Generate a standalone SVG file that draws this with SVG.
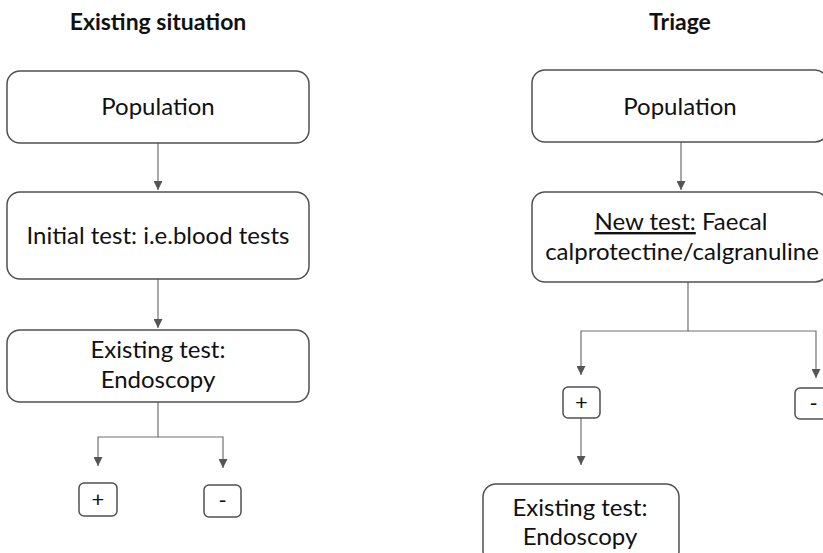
<svg xmlns="http://www.w3.org/2000/svg" width="823" height="553" viewBox="0 0 823 553">
<defs>
<style>
.box{fill:#fff;stroke:#505050;stroke-width:1.5}
.t{font-family:Lato,"Liberation Sans",sans-serif;font-size:24px;fill:#111;text-anchor:middle}
.h{font-family:Lato,"Liberation Sans",sans-serif;font-size:23px;font-weight:bold;fill:#111;text-anchor:middle}
.s{font-family:Lato,"Liberation Sans",sans-serif;font-size:22px;fill:#111;text-anchor:middle}
.c{fill:none;stroke:#707070;stroke-width:1.2}
</style>
<marker id="ah" markerUnits="userSpaceOnUse" markerWidth="9" markerHeight="9" refX="9" refY="4.5" orient="auto" viewBox="0 0 9 9">
<path d="M0,0 L9,4.5 L0,9 z" fill="#555"/>
</marker>
</defs>
<rect width="823" height="553" fill="#fff"/>
<text class="h" x="158" y="30">Existing situation</text>
<text class="h" x="680" y="30">Triage</text>
<g id="connectors">
<path class="c" d="M158,143 V190" marker-end="url(#ah)"/>
<path class="c" d="M158,279 V328" marker-end="url(#ah)"/>
<path class="c" d="M158,402 V437 H98 V466" marker-end="url(#ah)"/>
<path class="c" d="M158,437 H223 V468" marker-end="url(#ah)"/>
<path class="c" d="M681,142 V190" marker-end="url(#ah)"/>
<path class="c" d="M688,282 V331 H581 V375" marker-end="url(#ah)"/>
<path class="c" d="M688,331 H816 V378" marker-end="url(#ah)"/>
<path class="c" d="M581,418 V465" marker-end="url(#ah)"/>
</g>
<g id="l-population">
<rect class="box" x="7" y="71" width="302" height="72" rx="13"/>
<text class="t" x="158" y="115">Population</text>
</g>
<g id="l-initial">
<rect class="box" x="7" y="192" width="302" height="87" rx="13"/>
<text class="t" x="158" y="244">Initial test: i.e.blood tests</text>
</g>
<g id="l-existing">
<rect class="box" x="7" y="330" width="302" height="72" rx="13"/>
<text class="t" x="158" y="358">Existing test:</text>
<text class="t" x="158" y="388">Endoscopy</text>
</g>
<g id="l-plus">
<rect class="box" x="79" y="483" width="38" height="33" rx="5"/>
<text class="s" x="98" y="507">+</text>
</g>
<g id="l-minus">
<rect class="box" x="204" y="485" width="37" height="32" rx="5"/>
<text class="s" x="222.5" y="508">-</text>
</g>
<g id="r-population">
<rect class="box" x="532" y="70" width="296" height="72" rx="13"/>
<text class="t" x="680" y="115">Population</text>
</g>
<g id="r-newtest">
<rect class="box" x="532" y="192" width="296" height="90" rx="13"/>
<text class="t" x="681" y="230"><tspan text-decoration="underline">New test:</tspan> Faecal</text>
<text class="t" x="682" y="260">calprotectine/calgranuline</text>
</g>
<g id="r-plus">
<rect class="box" x="563" y="387" width="37" height="31" rx="5"/>
<text class="s" x="581.5" y="410">+</text>
</g>
<g id="r-minus">
<rect class="box" x="795" y="388" width="37" height="31" rx="5"/>
<text class="s" x="813.5" y="411">-</text>
</g>
<g id="r-existing">
<rect class="box" x="483" y="484" width="196" height="80" rx="13"/>
<text class="t" x="580" y="516">Existing test:</text>
<text class="t" x="580" y="545">Endoscopy</text>
</g>
</svg>
